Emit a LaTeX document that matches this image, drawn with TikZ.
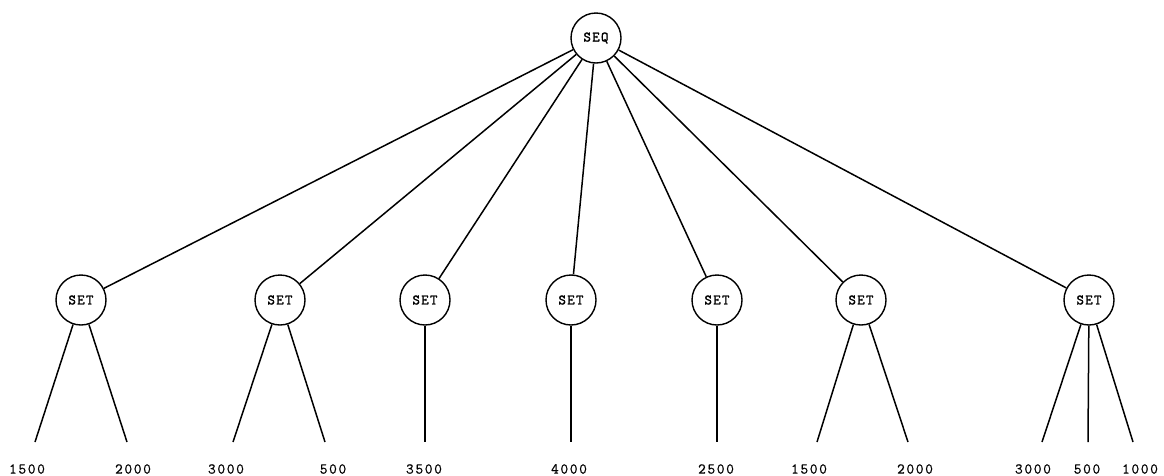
\documentclass[tikz,border=0pt]{standalone}
\usepackage{fontspec}
\newfontfamily\twfont{Latin Modern Mono}[LetterSpace=11,FakeBold=0.6]
\newfontfamily\twfontb{Latin Modern Mono}[LetterSpace=9,FakeBold=1.6]
\begin{document}
\begin{tikzpicture}[x=1pt,y=-1pt,
  opnode/.style={circle,draw,line width=1.4pt,minimum size=50pt,inner sep=0pt,font=\twfontb\fontsize{14.5}{14.5}\selectfont},
  leaf/.style={inner sep=0pt,font=\twfont\fontsize{15}{15}\selectfont},
  edge/.style={line width=1.5pt}]
\useasboundingbox (0,0) rectangle (1164,475);
\node[opnode] (seq) at (596,38) {SEQ};
\node[opnode] (s1) at (81,300) {SET};
\node[opnode] (s2) at (280,300) {SET};
\node[opnode] (s3) at (425,300) {SET};
\node[opnode] (s4) at (571,300) {SET};
\node[opnode] (s5) at (717,300) {SET};
\node[opnode] (s6) at (861,300) {SET};
\node[opnode] (s7) at (1089,300) {SET};
\foreach \s in {s1,s2,s3,s4,s5,s6,s7} \draw[edge] (seq) -- (\s);
% leaf line ends
\coordinate (e1a) at (35,442);
\coordinate (e1b) at (127,442);
\coordinate (e2a) at (233,442);
\coordinate (e2b) at (325,442);
\coordinate (e3) at (425,442);
\coordinate (e4) at (571,442);
\coordinate (e5) at (717,442);
\coordinate (e6a) at (817,442);
\coordinate (e6b) at (908,442);
\coordinate (e7a) at (1042,442);
\coordinate (e7b) at (1088,442);
\coordinate (e7c) at (1133,442);
\draw[edge] (s1) -- (e1a); \draw[edge] (s1) -- (e1b);
\draw[edge] (s2) -- (e2a); \draw[edge] (s2) -- (e2b);
\draw[edge] (s3) -- (e3);
\draw[edge] (s4) -- (e4);
\draw[edge] (s5) -- (e5);
\draw[edge] (s6) -- (e6a); \draw[edge] (s6) -- (e6b);
\draw[edge] (s7) -- (e7a); \draw[edge] (s7) -- (e7b); \draw[edge] (s7) -- (e7c);
% labels
\node[leaf] (l1a) at (27,469) {1500};
\node[leaf] (l1b) at (133,469) {2000};
\node[leaf] (l2a) at (226,469) {3000};
\node[leaf] (l2b) at (333,469) {500};
\node[leaf] (l3) at (424,469) {3500};
\node[leaf] (l4) at (569,469) {4000};
\node[leaf] (l5) at (716,469) {2500};
\node[leaf] (l6a) at (809,469) {1500};
\node[leaf] (l6b) at (915,469) {2000};
\node[leaf] (l7a) at (1033,469) {3000};
\node[leaf] (l7b) at (1087,469) {500};
\node[leaf] (l7c) at (1140,469) {1000};
\end{tikzpicture}
\end{document}
